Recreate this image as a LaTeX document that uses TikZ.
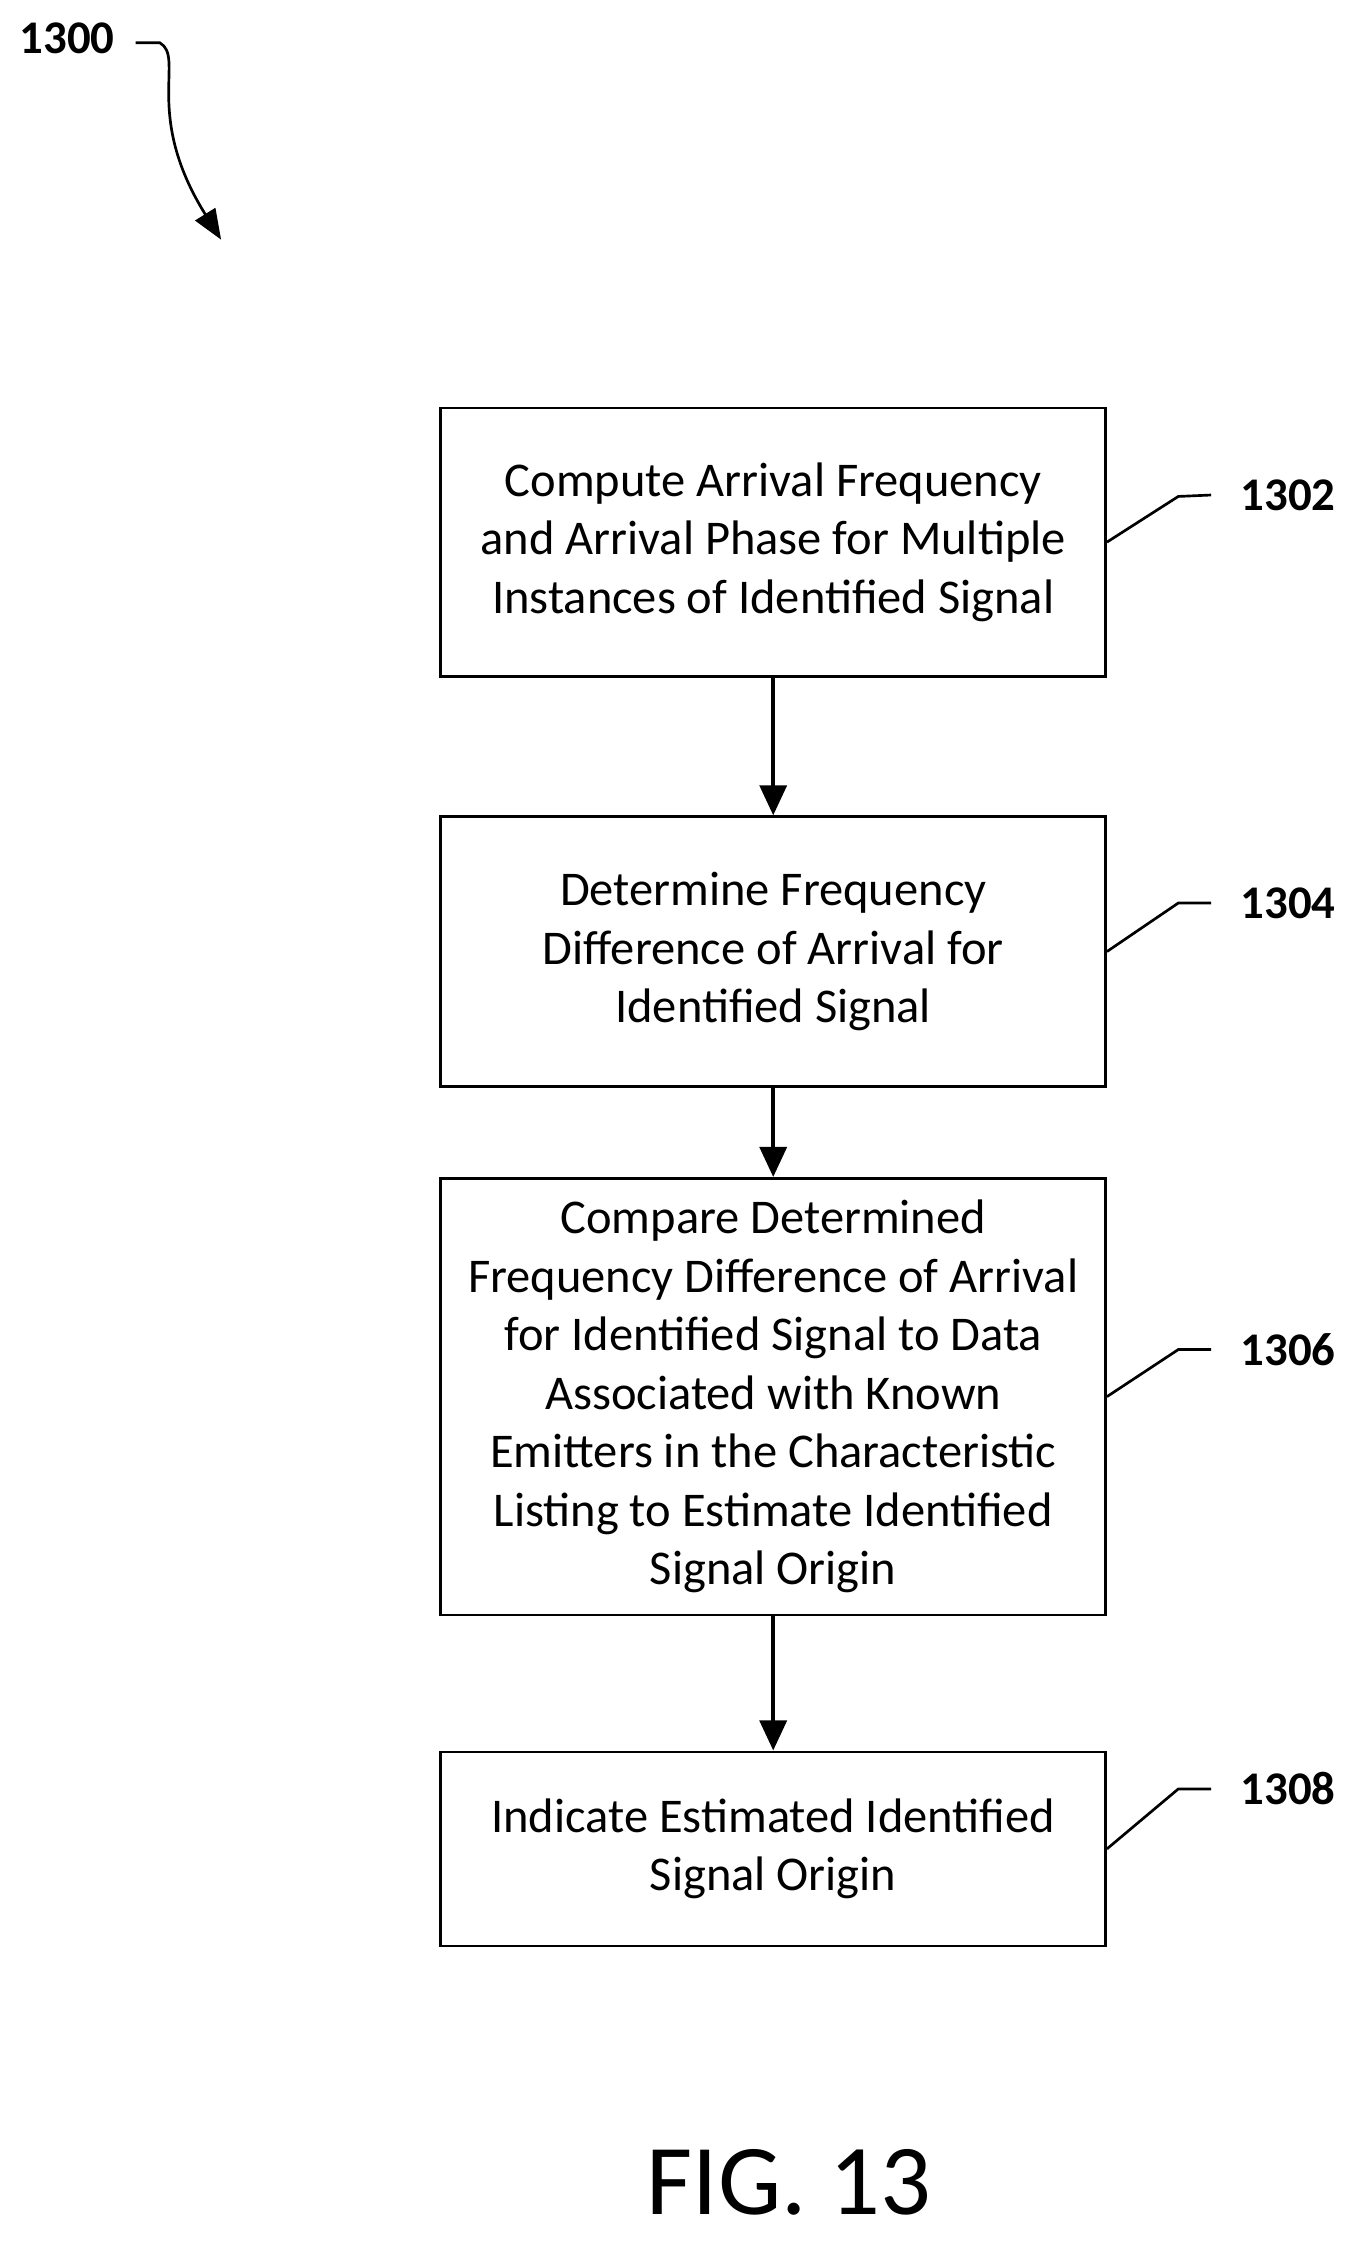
\documentclass[tikz,border=0pt]{standalone}
\usepackage{fontspec}
\setmainfont{Carlito}
\usetikzlibrary{positioning,arrows.meta}
\begin{document}
\begin{tikzpicture}[x=0.03cm,y=-0.03cm,
  stepbox/.style={draw,line width=1.6pt,minimum width=13.98cm,align=center,font=\fontsize{29}{35}\selectfont},
  ref/.style={font=\fontsize{28}{32}\selectfont\bfseries},
  flow/.style={line width=2.6pt,-{Triangle[length=18pt,width=16pt]}},
  lead/.style={line width=1.6pt}]
\useasboundingbox (0,0) rectangle (960,1580);

\node[ref] (fig) at (47,27) {1300};
\draw[lead,-{Triangle[length=18pt,width=14pt]}] (95,30) -- (112,30) .. controls (130,40) and (100,80) .. (155,168);

\node[stepbox,minimum height=5.64cm] (s1) at (542,380) {Compute Arrival Frequency\\and Arrival Phase for Multiple\\Instances of Identified Signal};
\node[stepbox,minimum height=5.67cm] (s2) at (542,667) {Determine Frequency\\Difference of Arrival for\\Identified Signal};
\node[stepbox,minimum height=9.18cm] (s3) at (542,979) {Compare Determined\\Frequency Difference of Arrival\\for Identified Signal to Data\\Associated with Known\\Emitters in the Characteristic\\Listing to Estimate Identified\\Signal Origin};
\node[stepbox,minimum height=4.08cm] (s4) at (542,1296) {Indicate Estimated Identified\\Signal Origin};

\draw[flow] (s1) -- (s2);
\draw[flow] (s2) -- (s3);
\draw[flow] (s3) -- (s4);

% reference numbers
\node[ref] (r1) at (903,347) {1302};
\node[ref] (r2) at (903,633) {1304};
\node[ref] (r3) at (903,946) {1306};
\node[ref] (r4) at (903,1254) {1308};
\draw[lead] (s1.east) -- ++(50,-32) -- ([xshift=-0.5cm]r1.west);
\draw[lead] (s2.east) -- ++(50,-34) -- ([xshift=-0.5cm]r2.west);
\draw[lead] (s3.east) -- ++(50,-33) -- ([xshift=-0.5cm]r3.west);
\draw[lead] (s4.east) -- ++(50,-42) -- ([xshift=-0.5cm]r4.west);

\node[font=\fontsize{60}{62}\selectfont] (cap) at (553,1530) {FIG. 13};
\end{tikzpicture}
\end{document}
